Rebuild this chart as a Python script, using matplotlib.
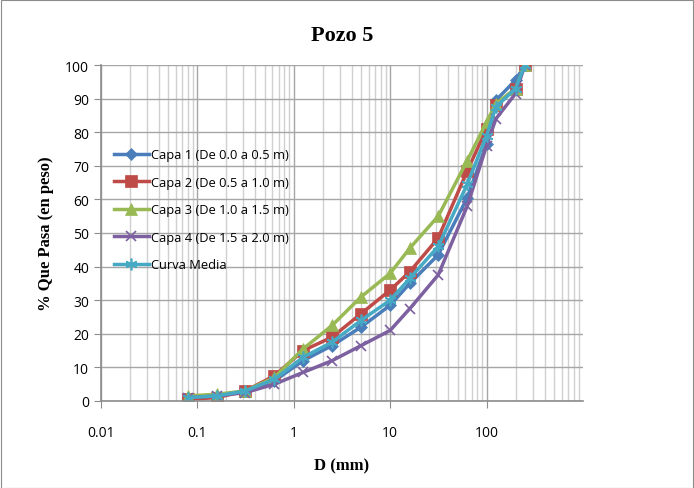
import matplotlib
matplotlib.use('Agg')
import matplotlib.pyplot as plt
from matplotlib.ticker import LogLocator, FixedLocator, NullFormatter, FixedFormatter
from matplotlib.patches import Rectangle

# tamices (mm)
diametros = [0.08, 0.16, 0.315, 0.63, 1.25, 2.5, 5, 10, 16, 31.5, 63, 100, 125, 200, 250]

capa1 = [1.0, 1.5, 3.0, 6.0, 12.0, 16.5, 22.0, 28.5, 35.0, 43.5, 60.5, 76.5, 89.5, 95.5, 100]
capa2 = [0.5, 1.0, 3.0, 7.5, 15.0, 19.0, 26.0, 33.0, 38.5, 48.5, 68.5, 81.0, 88.0, 93.0, 100]
capa3 = [1.5, 2.0, 3.0, 7.0, 15.5, 22.5, 31.0, 38.0, 45.5, 55.0, 71.5, 83.0, 88.5, 93.0, 100]
capa4 = [1.0, 1.5, 2.5, 5.0, 8.5, 12.0, 16.5, 21.0, 27.5, 37.5, 58.0, 76.0, 84.0, 91.5, 100]
media = [1.0, 1.5, 3.0, 6.5, 13.0, 17.5, 24.0, 30.0, 36.5, 46.0, 64.5, 79.0, 87.5, 93.0, 100]

nombres = ['Capa 1 (De 0.0 a 0.5 m)', 'Capa 2 (De 0.5 a 1.0 m)', 'Capa 3 (De 1.0 a 1.5 m)',
           'Capa 4 (De 1.5 a 2.0 m)', 'Curva Media']
series = [capa1, capa2, capa3, capa4, media]
colores = ['#4a7ebb', '#be4b48', '#98b954', '#7d60a0', '#46aac5']
marcas = ['D', 's', '^', 'x', (6, 2, 0)]
tamanos = [6.5, 8, 8, 7.5, 8.5]

fig = plt.figure(figsize=(6.94, 4.89), dpi=100)
fig.patches.append(Rectangle((0.001, 0.001), 0.997, 0.997, transform=fig.transFigure,
                             fill=False, edgecolor='#8c8c8c', linewidth=0.8))
ax = fig.add_axes([0.1455, 0.178, 0.6945, 0.687])

for y, nom, c, m, s in zip(series, nombres, colores, marcas, tamanos):
    ax.plot(diametros, y, color=c, marker=m, markersize=s, linewidth=2.5,
            markeredgewidth=1.2 if m in ('x',) or isinstance(m, tuple) else 0.5,
            markeredgecolor=c, label=nom)

ax.set_xscale('log')
ax.set_xlim(0.01, 1000)
ax.set_ylim(0, 100)
ax.xaxis.set_major_locator(FixedLocator([0.01, 0.1, 1, 10, 100]))
ax.xaxis.set_major_formatter(FixedFormatter(['0.01', '0.1', '1', '10', '100']))
ax.xaxis.set_minor_locator(LogLocator(base=10, subs=range(2, 10), numticks=20))
ax.xaxis.set_minor_formatter(NullFormatter())
ax.set_yticks(range(0, 101, 10))

ax.grid(which='major', color='#a6a6a6', linewidth=1.0)
ax.grid(which='minor', axis='x', color='#d0d0d0', linewidth=1.0)
ax.set_axisbelow(True)
for sp in ['top', 'right']:
    ax.spines[sp].set_visible(False)
for sp in ['left', 'bottom']:
    ax.spines[sp].set_color('#8c8c8c')
    ax.spines[sp].set_linewidth(1.2)
ax.tick_params(which='major', axis='both', color='#8c8c8c', length=5, labelsize=10)
ax.tick_params(axis='x', which='major', pad=12)
ax.tick_params(which='minor', length=0)
for lab in ax.get_xticklabels() + ax.get_yticklabels():
    lab.set_fontfamily('Open Sans')

ax.set_title('Pozo 5', fontsize=16, fontweight='bold', family='Liberation Serif', pad=18)
ax.set_ylabel('% Que Pasa (en peso)', fontsize=12, fontweight='bold', family='Liberation Serif', labelpad=8)
ax.set_xlabel('D (mm)', fontsize=12, fontweight='bold', family='Liberation Serif', labelpad=13)

leg = ax.legend(loc='upper left', bbox_to_anchor=(0.0, 0.79), frameon=False,
                prop={'family': 'Open Sans', 'size': 9.3}, handlelength=2.7,
                handletextpad=0.15, labelspacing=1.12, borderaxespad=0.6)

fig.savefig('out.png', dpi=100)
